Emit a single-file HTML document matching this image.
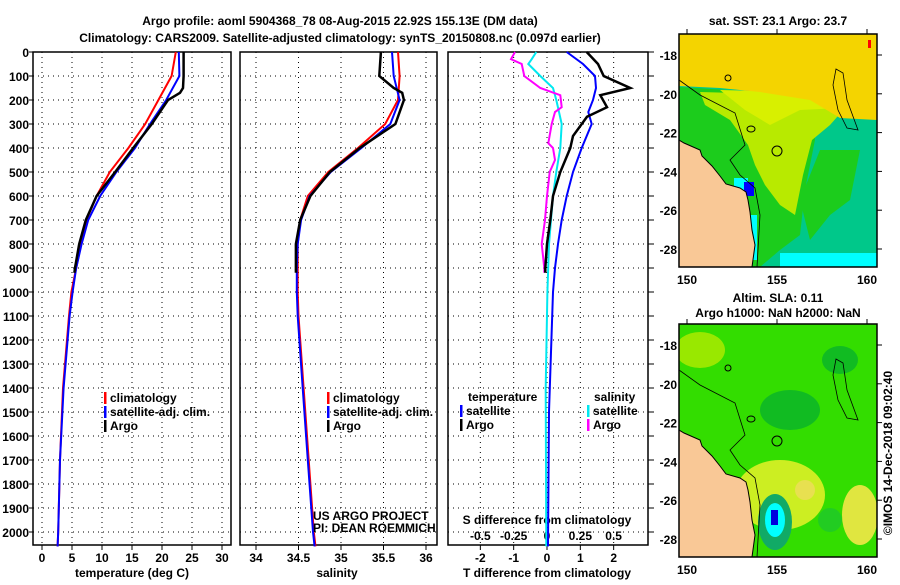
<!DOCTYPE html>
<html><head><meta charset="utf-8"><style>
body{margin:0;background:#fff}
svg text{font-family:"Liberation Sans",sans-serif;font-weight:bold;font-size:12px;fill:#000}
</style></head><body>
<svg id="c" width="900" height="580" viewBox="0 0 900 580">
<text x="340" y="25" text-anchor="middle" font-size="13.5">Argo profile: aoml 5904368_78 08-Aug-2015 22.92S 155.13E (DM data)</text>
<text x="340" y="42" text-anchor="middle" font-size="13.5">Climatology: CARS2009. Satellite-adjusted climatology: synTS_20150808.nc (0.097d earlier)</text>
<g id="maps"></g>
<g id="plots"></g>
</svg>
<script>
// ---- data ----
const depthTicks=[0,100,200,300,400,500,600,700,800,900,1000,1100,1200,1300,1400,1500,1600,1700,1800,1900,2000];
const tempTicks=[0,5,10,15,20,25,30];
const salTicks=[34,34.5,35,35.5,36];
const tdiffTicks=[-2,-1,0,1,2];
const sdiffTickLabels=["-0.5","-0.25","0","0.25","0.5"];
const sdiffTicks=[-0.5,-0.25,0,0.25,0.5];

const argoDepth=[0,100,150,170,200,300,400,500,600,700,800,900,920];
const argoTemp=[23.6,23.6,23.5,23,21,18.3,15.2,12.2,9.1,7.3,6.2,5.5,5.4];
const argoSal=[35.47,35.45,35.62,35.72,35.74,35.64,35.22,34.87,34.64,34.52,34.47,34.47,34.47];
const climDepth=[0,100,200,300,400,500,600,700,800,900,1000,1100,1400,1700,2000,2060];
const climTemp=[22.3,21.6,19.4,17.2,14.4,11.3,9.1,7.4,6.5,5.7,4.9,4.5,3.5,3.0,2.7,2.6];
const climSal=[35.67,35.69,35.67,35.52,35.2,34.85,34.61,34.52,34.49,34.49,34.49,34.5,34.56,34.62,34.68,34.7];
const satTemp=[22.8,22.9,20.7,18,15.5,12.4,9.7,7.7,6.6,5.7,5.1,4.6,3.6,3.0,2.7,2.6];
const satSal=[35.6,35.62,35.69,35.58,35.24,34.88,34.63,34.53,34.49,34.48,34.48,34.49,34.55,34.61,34.67,34.69];

const diffDepth=[0,50,100,150,180,230,270,350,400,500,600,700,800,900,920];
const argoTdiff=[1.19,1.53,1.7,2.5,1.6,1.8,1.2,0.78,0.7,0.4,0.18,0.1,0,-0.05,-0.05];
const argoSdiffDepth=[0,30,50,100,150,180,230,250,300,380,400,450,500,600,700,800,900,920];
const argoSdiff=[-0.24,-0.27,-0.19,-0.17,-0.05,0.1,0.11,0.06,0.035,0.01,0.045,0.06,0.02,0,-0.015,-0.04,-0.02,-0.02];
const satDiffDepth=[0,50,100,150,200,250,300,350,400,500,600,700,800,900,1000,1500,2060];
const satTdiff=[0.59,1.08,1.44,1.47,1.38,1.24,1.34,1.19,1.04,0.78,0.59,0.44,0.33,0.24,0.18,0.06,0.03];
const satSdiffDepth=[0,30,50,100,150,200,300,400,500,600,700,800,1000,1400,2060];
const satSdiff=[-0.08,-0.115,-0.14,-0.05,0.045,0.07,0.11,0.1,0.07,0.045,0.03,0.015,0.003,-0.01,-0.005];

// ---- helpers ----
const NS="http://www.w3.org/2000/svg";
const plots=document.getElementById('plots');
function el(tag,attrs,parent,txt){const e=document.createElementNS(NS,tag);for(const k in attrs)e.setAttribute(k,attrs[k]);if(txt!==undefined)e.textContent=txt;(parent||plots).appendChild(e);return e;}
const Y0=52,Y1=545;
const yD=d=>Y0+d*0.24;
const panels=[
 {x0:33,x1:231,sx:t=>42+t*6},
 {x0:240,x1:437,sx:s=>256+(s-34)*85},
 {x0:448,x1:648,sx:t=>547+t*33.33}
];
const sxS=s=>547+s*133.3;

function line(xs,ds,sx,color,name,w){
  const p=el('polyline',{points:xs.map((v,i)=>sx(v).toFixed(1)+','+yD(ds[i]).toFixed(1)).join(' '),fill:'none',stroke:color,'stroke-width':w||2});
  
  
}

panels.forEach((P,pi)=>{
  const g=el('g',{});
  
  
  depthTicks.forEach(d=>{
    const l=el('line',{x1:P.x0,x2:P.x1,y1:yD(d),y2:yD(d),stroke:'#000','stroke-width':1,'stroke-dasharray':'1,4'},g);
    
    
  });
  const ticks=pi==0?tempTicks:pi==1?salTicks:tdiffTicks;
  ticks.forEach(t=>{
    const x=P.sx(t);
    const l=el('line',{x1:x,x2:x,y1:Y0,y2:Y1,stroke:'#000','stroke-width':1,'stroke-dasharray':'1,4'},g);
    
    
    el('line',{x1:x,x2:x,y1:Y1,y2:Y1+5,stroke:'#000'},g);
    const t2=el('text',{x:x,y:562,'text-anchor':'middle'},g,String(t));
    
    
  });
  const r=el('rect',{x:P.x0,y:Y0,width:P.x1-P.x0,height:Y1-Y0,fill:'none',stroke:'#000','stroke-width':1.5},g);
  
  
});
depthTicks.forEach(d=>{
  const t=el('text',{x:29,y:yD(d)+5,'text-anchor':'end'},plots,String(d));
  
  
  el('line',{x1:29,x2:33,y1:yD(d),y2:yD(d),stroke:'#000'});
  el('line',{x1:648,x2:654,y1:yD(d),y2:yD(d),stroke:'#000'});
});
sdiffTicks.forEach((s,i)=>{
  const t=el('text',{x:sxS(s),y:540,'text-anchor':'middle'},plots,sdiffTickLabels[i]);
  
  
});
[['temperature (deg C)',132],['salinity',337],['T difference from climatology',547]].forEach(([s,x])=>{
  const t=el('text',{x:x,y:577,'text-anchor':'middle'},plots,s);
  
  
});
const st=el('text',{x:547,y:524,'text-anchor':'middle'},plots,'S difference from climatology');



const [P1,P2,P3]=panels;
line(climTemp,climDepth,P1.sx,'#ff0000','temp-climatology-line');
line(satTemp,climDepth,P1.sx,'#0000ff','temp-satellite-line');
line(argoTemp,argoDepth,P1.sx,'#000','temp-argo-line',2.5);
line(climSal,climDepth,P2.sx,'#ff0000','sal-climatology-line');
line(satSal,climDepth,P2.sx,'#0000ff','sal-satellite-line');
line(argoSal,argoDepth,P2.sx,'#000','sal-argo-line',2.5);
line(satSdiff,satSdiffDepth,sxS,'#00e8f0','sdiff-satellite-line');
line(satTdiff,satDiffDepth,P3.sx,'#0000ff','tdiff-satellite-line');
line(argoSdiff,argoSdiffDepth,sxS,'#ff00ff','sdiff-argo-line');
line(argoTdiff,diffDepth,P3.sx,'#000','tdiff-argo-line',2.5);

function leg(x,y,color,label,name){
  el('rect',{x:x,y:y-10,width:2.5,height:12,fill:color});
  const t=el('text',{x:x+6,y:y},plots,label);
  
  
}
leg(104,402,'#ff0000','climatology','legend-climatology');
leg(104,416,'#0000ff','satellite-adj. clim.','legend-satellite');
leg(104,430,'#000','Argo','legend-argo');
leg(327,402,'#ff0000','climatology','legend-climatology-2');
leg(327,416,'#0000ff','satellite-adj. clim.','legend-satellite-2');
leg(327,430,'#000','Argo','legend-argo-2');
const lt=el('text',{x:468,y:401},plots,'temperature');
const ls=el('text',{x:594,y:401},plots,'salinity');
leg(460,415,'#0000ff','satellite','legend-t-satellite');
leg(460,429,'#000','Argo','legend-t-argo');
leg(587,415,'#00e8f0','satellite','legend-s-satellite');
leg(587,429,'#ff00ff','Argo','legend-s-argo');
const u1=el('text',{x:313,y:520,'font-weight':'normal','font-size':'11.5'},plots,'US ARGO PROJECT');
const u2=el('text',{x:313,y:532,'font-weight':'normal','font-size':'11.5'},plots,'PI: DEAN ROEMMICH');

// ---- maps ----
const maps=document.getElementById('maps');
const lonX=l=>687+(l-150)*18;
const latY=(l,off)=>off+55+(-18-l)*19.4;
function mapPanel(off,kind){
  const g=el('g',{},maps);
  
  
  const cid='clip'+off;
  const cp=el('clipPath',{id:cid},g);el('rect',{x:679,y:34+off,width:198,height:233},cp);
  const m=el('g',{'clip-path':'url(#'+cid+')'},g);
  const o=off;
  if(kind=='sst'){
    el('rect',{x:679,y:34+o,width:198,height:233,fill:'#00c88a'},m);
    el('polygon',{points:`679,${87+o} 810,${95+o} 815,${140+o} 805,${190+o} 800,${235+o} 780,${250+o} 760,${267+o} 679,${267+o}`,fill:'#1ccc1c'},m);
    el('polygon',{points:`820,${150+o} 860,${150+o} 850,${200+o} 830,${215+o} 810,${240+o} 800,${200+o}`,fill:'#1ccc1c'},m);
    el('polygon',{points:`700,${92+o} 810,${95+o} 845,${108+o} 830,${125+o} 812,${140+o} 803,${175+o} 795,${215+o} 780,${205+o} 765,${185+o} 755,${165+o} 748,${145+o} 730,${120+o} 705,${105+o}`,fill:'#b8ea00'},m);
    el('polygon',{points:`720,${90+o} 810,${92+o} 840,${108+o} 800,${110+o} 770,${125+o} 745,${110+o}`,fill:'#d8f000'},m);
    el('polygon',{points:`679,${34+o} 877,${34+o} 877,${120+o} 840,${118+o} 810,${100+o} 760,${92+o} 720,${88+o} 679,${86+o}`,fill:'#f4d400'},m);
    el('rect',{x:868,y:40+o,width:3,height:8,fill:'#ff0000'},m);
    el('rect',{x:780,y:253+o,width:97,height:14,fill:'#00ffff'},m);
    el('rect',{x:747,y:215+o,width:10,height:45,fill:'#00ffff'},m);
    el('rect',{x:734,y:178+o,width:14,height:18,fill:'#00ffff'},m);
    el('rect',{x:744,y:182+o,width:10,height:14,fill:'#0000ff'},m);
  } else {
    el('rect',{x:679,y:34+o,width:198,height:233,fill:'#33dd00'},m);
    el('ellipse',{cx:790,cy:120+o,rx:30,ry:20,fill:'#11bb22'},m);
    el('ellipse',{cx:840,cy:70+o,rx:18,ry:14,fill:'#11bb22'},m);
    el('ellipse',{cx:700,cy:60+o,rx:25,ry:18,fill:'#99e800'},m);
    el('ellipse',{cx:780,cy:205+o,rx:45,ry:35,fill:'#ccee22'},m);
    el('ellipse',{cx:860,cy:225+o,rx:18,ry:30,fill:'#e0e640'},m);
    el('ellipse',{cx:805,cy:200+o,rx:10,ry:10,fill:'#e8e050'},m);
    el('ellipse',{cx:830,cy:230+o,rx:12,ry:12,fill:'#22cc22'},m);
    el('ellipse',{cx:775,cy:232+o,rx:17,ry:28,fill:'#11aa66'},m);
    el('ellipse',{cx:775,cy:230+o,rx:10,ry:17,fill:'#00ffff'},m);
    el('rect',{x:771,y:220+o,width:7,height:15,fill:'#0000dd'},m);
  }
  el('polygon',{points:`679,${140+o} 684,${143+o} 700,${150+o} 702,${156+o} 712,${166+o} 720,${176+o} 726,${184+o} 740,${188+o} 746,${192+o} 748,${200+o} 750,${212+o} 752,${230+o} 755,${245+o} 752,${267+o} 679,${267+o}`,fill:'#f9c896',stroke:'#000','stroke-width':1},m);
  el('polyline',{points:`679,${80+o} 700,${95+o} 735,${113+o} 745,${145+o} 730,${160+o} 740,${175+o} 755,${188+o} 760,${215+o} 757,${267+o}`,fill:'none',stroke:'#000','stroke-width':0.8},m);
  el('polygon',{points:`836,${69+o} 843,${73+o} 847,${100+o} 858,${130+o} 847,${128+o} 838,${110+o} 833,${85+o}`,fill:'none',stroke:'#000','stroke-width':0.8},m);
  el('circle',{cx:777,cy:151+o,r:5,fill:'none',stroke:'#000'},m);
  el('circle',{cx:728,cy:78+o,r:3,fill:'none',stroke:'#000'},m);
  el('ellipse',{cx:751,cy:129+o,rx:4,ry:3,fill:'none',stroke:'#000'},m);
  el('rect',{x:679,y:34+o,width:198,height:233,fill:'none',stroke:'#000','stroke-width':1.5},g);
  [-18,-20,-22,-24,-26,-28].forEach(l=>{
    const y=latY(l,o);
    el('line',{x1:877,x2:882,y1:y,y2:y,stroke:'#000'},g);
    const t=el('text',{x:677,y:y+5,'text-anchor':'end'},g,String(l));
    
    
  });
  [150,155,160].forEach(l=>{
    const x=lonX(l);
    el('line',{x1:x,x2:x,y1:29+o,y2:34+o,stroke:'#000'},g);
    const t=el('text',{x:x,y:284+o,'text-anchor':'middle'},g,String(l));
    
    
  });
}
mapPanel(0,'sst');
mapPanel(290,'sla');
const mt=el('text',{x:778,y:25,'text-anchor':'middle'},maps,'sat. SST: 23.1 Argo: 23.7');
const m2=el('text',{x:778,y:302,'text-anchor':'middle'},maps,'Altim. SLA: 0.11');
const m3=el('text',{x:778,y:317,'text-anchor':'middle'},maps,'Argo h1000: NaN h2000: NaN');
const cr=el('text',{x:0,y:0,'font-weight':'normal','text-anchor':'middle',transform:'translate(892,453) rotate(-90)'},maps,'©IMOS 14-Dec-2018 09:02:40');
</script>
</body></html>
